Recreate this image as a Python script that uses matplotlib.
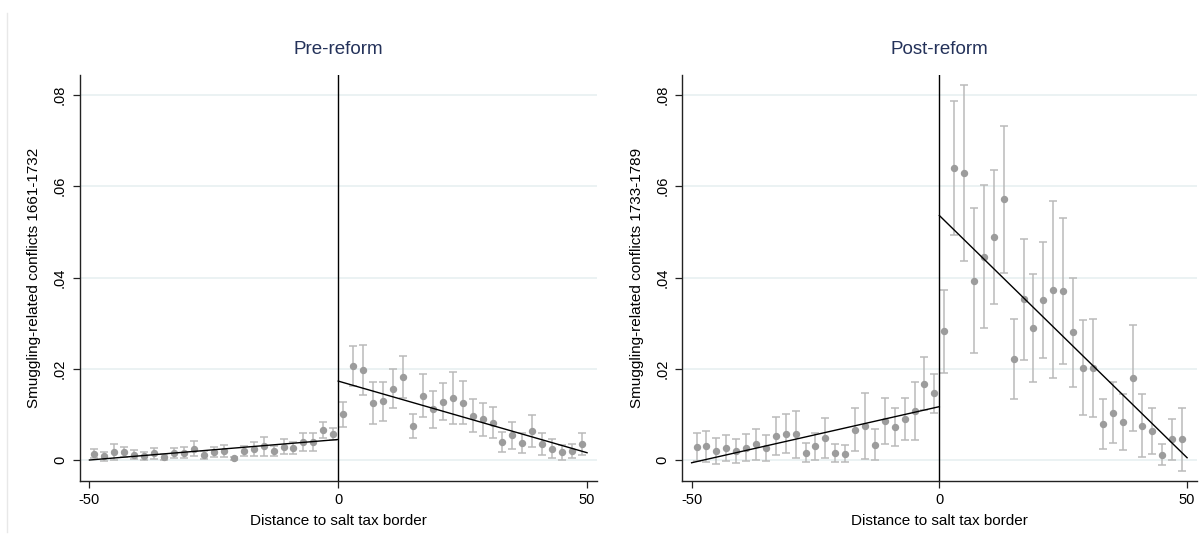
import matplotlib
matplotlib.use('Agg')
import matplotlib.pyplot as plt
from matplotlib.lines import Line2D

plt.rcParams['font.family'] = ['Liberation Sans', 'DejaVu Sans']

# bin centres (2 km bins) on each side of the border
binsWest = [-49, -47, -45, -43, -41, -39, -37, -35, -33, -31, -29, -27, -25,
	-23, -21, -19, -17, -15, -13, -11, -9, -7, -5, -3, -1]
binsEast = [1, 3, 5, 7, 9, 11, 13, 15, 17, 19, 21, 23, 25,
	27, 29, 31, 33, 35, 37, 39, 41, 43, 45, 47, 49]

# pre-reform (1661-1732) bin means and 95% half-widths
preMeanWest = [0.0014, 0.0008, 0.0018, 0.0018, 0.0012, 0.0009, 0.0015, 0.0007, 0.0015, 0.0016,
	0.0025, 0.0011, 0.0018, 0.0020, 0.0004, 0.0020, 0.0024, 0.0030, 0.0020, 0.0029,
	0.0027, 0.0039, 0.0040, 0.0066, 0.0057]
preErrWest = [0.0010, 0.0010, 0.0018, 0.0011, 0.0010, 0.0008, 0.0012, 0.0007, 0.0011, 0.0012,
	0.0016, 0.0009, 0.0011, 0.0013, 0.0003, 0.0011, 0.0015, 0.0021, 0.0011, 0.0016,
	0.0013, 0.0020, 0.0020, 0.0018, 0.0014]
preMeanEast = [0.0100, 0.0206, 0.0197, 0.0126, 0.0129, 0.0156, 0.0182, 0.0074, 0.0141, 0.0111,
	0.0128, 0.0136, 0.0126, 0.0097, 0.0089, 0.0082, 0.0039, 0.0054, 0.0037, 0.0063,
	0.0035, 0.0025, 0.0017, 0.0020, 0.0035]
preErrEast = [0.0028, 0.0044, 0.0055, 0.0046, 0.0043, 0.0043, 0.0047, 0.0026, 0.0047, 0.0040,
	0.0040, 0.0058, 0.0047, 0.0036, 0.0037, 0.0034, 0.0022, 0.0030, 0.0022, 0.0035,
	0.0024, 0.0021, 0.0017, 0.0016, 0.0025]

# post-reform (1733-1789)
postMeanWest = [0.0028, 0.0030, 0.0020, 0.0026, 0.0020, 0.0027, 0.0035, 0.0026, 0.0053, 0.0058,
	0.0056, 0.0016, 0.0030, 0.0049, 0.0015, 0.0014, 0.0066, 0.0075, 0.0033, 0.0086,
	0.0073, 0.0090, 0.0107, 0.0167, 0.0146]
postErrWest = [0.0031, 0.0034, 0.0028, 0.0029, 0.0027, 0.0030, 0.0034, 0.0029, 0.0042, 0.0042,
	0.0051, 0.0021, 0.0030, 0.0044, 0.0020, 0.0019, 0.0047, 0.0073, 0.0034, 0.0051,
	0.0042, 0.0046, 0.0064, 0.0058, 0.0043]
postMeanEast = [0.0282, 0.0640, 0.0629, 0.0393, 0.0446, 0.0489, 0.0572, 0.0222, 0.0352, 0.0289,
	0.0351, 0.0373, 0.0371, 0.0280, 0.0202, 0.0202, 0.0079, 0.0104, 0.0083, 0.0180,
	0.0075, 0.0064, 0.0012, 0.0045, 0.0045]
postErrEast = [0.0091, 0.0146, 0.0193, 0.0159, 0.0156, 0.0147, 0.0161, 0.0088, 0.0132, 0.0119,
	0.0127, 0.0194, 0.0160, 0.0120, 0.0104, 0.0108, 0.0054, 0.0067, 0.0062, 0.0116,
	0.0069, 0.0051, 0.0023, 0.0045, 0.0070]

# linear fits at the ends of each side: [value at -50, value at 0] and [value at 0, value at 50]
preFitWest = [0.0000, 0.0045]
preFitEast = [0.0173, 0.0016]
postFitWest = [-0.0006, 0.0117]
postFitEast = [0.0536, 0.0005]

yTicks = [0, 0.02, 0.04, 0.06, 0.08]
yTickLabels = ['0', '.02', '.04', '.06', '.08']
xTicks = [-50, 0, 50]
xTickLabels = ['-50', '0', '50']

W, H = 1203, 539
fig = plt.figure(figsize=(W / 100, H / 100), dpi=100)
fig.patch.set_facecolor('white')

# faint outline of the graph region
fig.add_artist(Line2D([7 / W, 7 / W], [1 - 13 / H, 1 - 532 / H], color='#e8e8e8', lw=1))

def drawPanel(rect, title, ylabel, meanW, errW, meanE, errE, fitW, fitE):
	ax = fig.add_axes(rect)
	ax.set_xlim(-52, 52)
	ax.set_ylim(-0.0046, 0.0844)
	ax.grid(axis='y', color='#e9f1f2', lw=1.3)
	ax.set_axisbelow(True)

	for xs, ms, es in [(binsWest, meanW, errW), (binsEast, meanE, errE)]:
		ax.errorbar(xs, ms, yerr=es, fmt='o', color='#9c9c9c', ecolor='#bababa',
			elinewidth=1.1, capsize=2.6, capthick=1.1, markersize=4.3, zorder=3)

	ax.plot([-50, 0], fitW, color='black', lw=1.0, zorder=4)
	ax.plot([0, 50], fitE, color='black', lw=1.0, zorder=4)
	ax.axvline(0, color='black', lw=1.0, zorder=4)

	for side in ['top', 'right']:
		ax.spines[side].set_visible(False)
	for side in ['left', 'bottom']:
		ax.spines[side].set_color('#222222')
		ax.spines[side].set_linewidth(1.0)

	ax.set_xticks(xTicks)
	ax.set_xticklabels(xTickLabels)
	ax.set_yticks(yTicks)
	ax.set_yticklabels(yTickLabels, rotation=90, va='center')
	ax.tick_params(direction='out', length=5, width=0.9, color='#222222',
		labelsize=10.5, pad=4)

	ax.set_xlabel('Distance to salt tax border', fontsize=11, labelpad=5)
	ax.set_ylabel(ylabel, fontsize=11)
	ax.yaxis.set_label_coords(-0.074, 0.5)
	ax.set_title(title, fontsize=13.5, color='#24325a', pad=15)
	return ax

drawPanel([79.5 / W, 1 - 481 / H, 517.5 / W, 406 / H], 'Pre-reform',
	'Smuggling-related conflicts 1661-1732',
	preMeanWest, preErrWest, preMeanEast, preErrEast, preFitWest, preFitEast)
drawPanel([681.7 / W, 1 - 481 / H, 515.3 / W, 406 / H], 'Post-reform',
	'Smuggling-related conflicts 1733-1789',
	postMeanWest, postErrWest, postMeanEast, postErrEast, postFitWest, postFitEast)

fig.savefig('out.png', dpi=100)
